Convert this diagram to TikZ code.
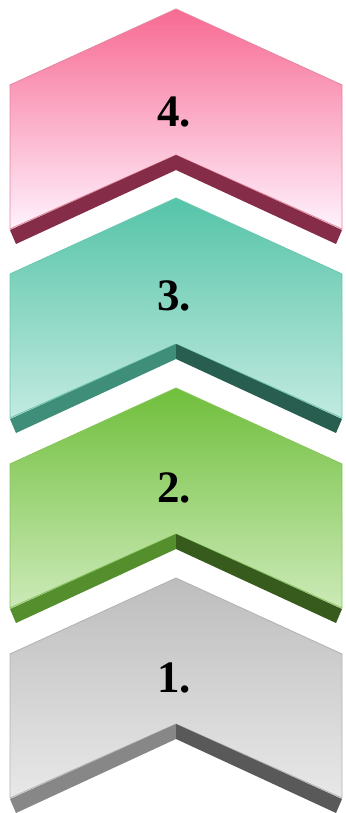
\documentclass[tikz,border=0pt]{standalone}
\usepackage{fontspec}
\setmainfont{Liberation Serif}
\definecolor{pinkT}{HTML}{F76A93}
\definecolor{pinkB}{HTML}{FFF2FD}
\definecolor{pinkS}{HTML}{E5889F}
\definecolor{pinkL}{HTML}{842C48}
\definecolor{pinkR}{HTML}{842C48}
\definecolor{tealT}{HTML}{55C4A8}
\definecolor{tealB}{HTML}{C2EAE0}
\definecolor{tealS}{HTML}{6CC8B0}
\definecolor{tealL}{HTML}{3F8E7A}
\definecolor{tealR}{HTML}{285E50}
\definecolor{grnT}{HTML}{70BF3C}
\definecolor{grnB}{HTML}{CCEAB8}
\definecolor{grnS}{HTML}{86C65C}
\definecolor{grnL}{HTML}{558F2D}
\definecolor{grnR}{HTML}{365B1D}
\definecolor{grayT}{HTML}{BDBDBD}
\definecolor{grayB}{HTML}{E8E8E8}
\definecolor{grayS}{HTML}{B4B4B4}
\definecolor{grayL}{HTML}{878787}
\definecolor{grayR}{HTML}{595959}
\tikzset{
  face/.style={line width=0.9pt, line join=miter},
  band/.style={draw=none},
  numlabel/.style={font=\fontsize{45}{45}\selectfont\bfseries, inner sep=0pt, text=black}
}
\begin{document}
\begin{tikzpicture}[x=1pt,y=-1pt]
\useasboundingbox (0,0) rectangle (345,813);
\foreach \y/\c/\lab/\ty in {9/pink/4/103, 198/teal/3/98, 388/grn/2/100, 578/gray/1/100}{
  \path[face, top color=\c T, bottom color=\c B, draw=\c S]
    (10,\y+76) -- (176,\y) -- (342,\y+76) -- (342,\y+220) -- (176,\y+146) -- (10,\y+220) -- cycle;
  \fill[\c L] (10,\y+221) -- (176,\y+146) -- (176,\y+161) -- (16,\y+235) -- cycle;
  \fill[\c R] (176,\y+146) -- (342,\y+221) -- (336,\y+235) -- (176,\y+161) -- cycle;
  \node[numlabel] (n\lab) at (174,\y+\ty) {\lab.};
}
\end{tikzpicture}
\end{document}
